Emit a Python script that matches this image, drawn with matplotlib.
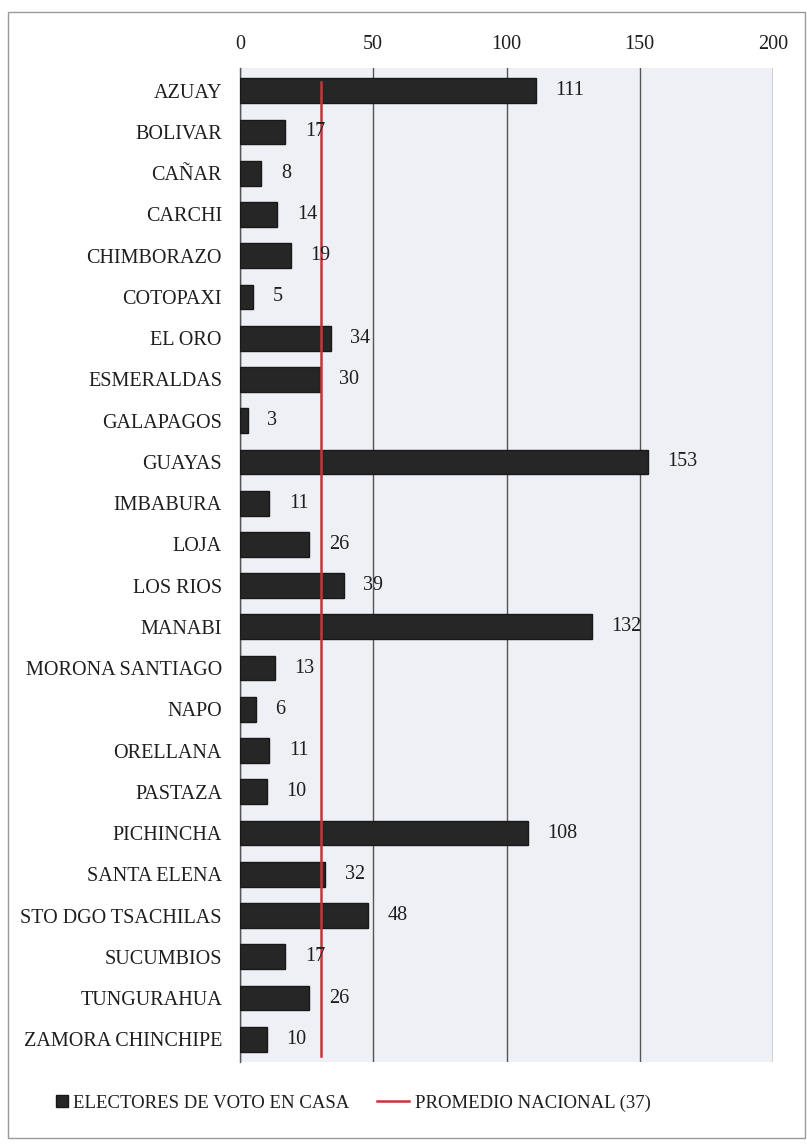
import matplotlib
matplotlib.use("Agg")
import matplotlib.pyplot as plt
from matplotlib.patches import Rectangle
from matplotlib.lines import Line2D

provincias = ["AZUAY", "BOLIVAR", "CAÑAR", "CARCHI", "CHIMBORAZO", "COTOPAXI",
              "EL ORO", "ESMERALDAS", "GALAPAGOS", "GUAYAS", "IMBABURA", "LOJA",
              "LOS RIOS", "MANABI", "MORONA SANTIAGO", "NAPO", "ORELLANA",
              "PASTAZA", "PICHINCHA", "SANTA ELENA", "STO DGO TSACHILAS",
              "SUCUMBIOS", "TUNGURAHUA", "ZAMORA CHINCHIPE"]
electores = [111, 17, 8, 14, 19, 5, 34, 30, 3, 153, 11, 26, 39, 132, 13, 6,
             11, 10, 108, 32, 48, 17, 26, 10]
promedio_linea = 30.5
xticks = [0, 50, 100, 150, 200]
serie_label = "ELECTORES DE VOTO EN CASA"
promedio_label = "PROMEDIO NACIONAL (37)"

plt.rcParams['font.family'] = ['Liberation Serif', 'DejaVu Serif']
FS = 14.5
LFS = 13.5
TXT = '#1e1e1e'
BAR = '#262626'
RED = '#c8343c'

fig = plt.figure(figsize=(8.07, 11.44), dpi=100)
fig.patch.set_facecolor('white')
fig.patches.append(Rectangle((8/807, 1-1138/1144), 797/807, (1138-12)/1144,
                             transform=fig.transFigure, fill=False,
                             edgecolor='#9a9a9a', linewidth=1.0))

ax = fig.add_axes([240/807, 1-1062/1144, 533/807, (1062-68)/1144])
ax.set_facecolor('#eef0f5')
y = list(range(len(provincias)))
ax.barh(y, electores, height=0.6, color=BAR, edgecolor='#181818', zorder=3)
for yi, v in zip(y, electores):
    ax.annotate(str(v), (v, yi), xytext=(14, 0), textcoords='offset points',
                va='center', ha='left', fontsize=FS, color=TXT, zorder=5)
ax.plot([promedio_linea, promedio_linea], [-0.2, len(provincias) - 0.6],
        color=RED, linewidth=1.8, zorder=4)

ax.set_xlim(0, 200)
ax.set_ylim(len(provincias) - 0.45, -0.55)
ax.set_xticks(xticks)
ax.xaxis.tick_top()
ax.tick_params(axis='x', length=0, pad=10, labelsize=FS, colors=TXT)
ax.set_yticks(y)
ax.set_yticklabels(provincias)
ax.tick_params(axis='y', length=0, pad=13, labelsize=FS, colors=TXT)
ax.grid(axis='x', color='#555555', linewidth=1.0, zorder=1)
for s in ['top', 'right', 'bottom']:
    ax.spines[s].set_visible(False)
ax.spines['left'].set_color('#555555')
ax.spines['left'].set_linewidth(1.0)

ly = 1 - 1103/1144
h1 = Line2D([], [], linestyle='none', marker='s', markersize=8,
            markerfacecolor=BAR, markeredgecolor='#181818')
h2 = Line2D([], [], color=RED, linewidth=1.8)
fig.legend([h1], [serie_label], loc='center left',
           bbox_to_anchor=(45/807, ly), frameon=False, fontsize=LFS,
           handlelength=0.8, handletextpad=0.2, borderpad=0,
           labelcolor=TXT)
fig.legend([h2], [promedio_label], loc='center left',
           bbox_to_anchor=(368/807, ly), frameon=False, fontsize=LFS,
           handlelength=1.7, handletextpad=0.3, borderpad=0, labelcolor=TXT)

fig.savefig("out.png", dpi=100)
